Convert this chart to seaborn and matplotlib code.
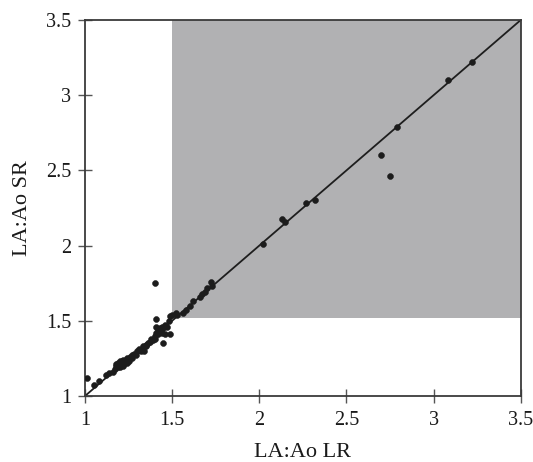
import numpy as np
import pandas as pd
import matplotlib
matplotlib.use("Agg")
import matplotlib.pyplot as plt
import seaborn as sns

# LA:Ao ratio measured by the two readers (LR on x, SR on y)
la_ao_lr = [
    1.01, 1.05, 1.08, 1.12, 1.14, 1.16, 1.17, 1.18, 1.19, 1.20,
    1.20, 1.21, 1.22, 1.22, 1.23, 1.24, 1.25, 1.26, 1.27, 1.28,
    1.29, 1.30, 1.31, 1.32, 1.33, 1.34, 1.35, 1.36, 1.37, 1.38,
    1.39, 1.40, 1.40, 1.41, 1.42, 1.42, 1.43, 1.44, 1.44, 1.45,
    1.45, 1.46, 1.46, 1.47, 1.48, 1.41, 1.41, 1.40, 1.49, 1.49,
    1.50, 1.52, 1.53, 1.56, 1.58, 1.60, 1.62, 1.66, 1.67, 1.69,
    1.70, 1.72, 1.73, 2.02, 2.13, 2.15, 2.27, 2.32, 2.70, 2.75,
    2.79, 3.08, 3.22, 1.18, 1.19, 1.21, 1.24, 1.27, 1.35, 1.43,
]
la_ao_sr = [
    1.12, 1.07, 1.10, 1.14, 1.15, 1.16, 1.18, 1.20, 1.22, 1.19,
    1.23, 1.21, 1.24, 1.20, 1.22, 1.25, 1.23, 1.26, 1.27, 1.28,
    1.27, 1.30, 1.31, 1.30, 1.33, 1.30, 1.33, 1.35, 1.36, 1.38,
    1.37, 1.40, 1.38, 1.42, 1.41, 1.44, 1.43, 1.42, 1.46, 1.45,
    1.35, 1.41, 1.47, 1.46, 1.50, 1.51, 1.46, 1.75, 1.53, 1.41,
    1.54, 1.55, 1.54, 1.55, 1.57, 1.60, 1.63, 1.66, 1.68, 1.69,
    1.72, 1.76, 1.73, 2.01, 2.18, 2.16, 2.28, 2.30, 2.60, 2.46,
    2.79, 3.10, 3.22, 1.21, 1.19, 1.23, 1.22, 1.25, 1.34, 1.45,
]
axis_ticks = [1, 1.5, 2, 2.5, 3, 3.5]
tick_labels = ["1", "1.5", "2", "2.5", "3", "3.5"]
shade_x0, shade_y0 = 1.5, 1.52
identity = [1.0, 3.5]

df = pd.DataFrame({"lr": la_ao_lr, "sr": la_ao_sr})

sns.set_style("white")
plt.rcParams["font.family"] = ["Liberation Serif", "DejaVu Serif"]

fig = plt.figure(figsize=(5.33, 4.62), dpi=100)
ax = fig.add_axes([0.1595, 0.1429, 0.8175, 0.8138])

# shaded region above the threshold on both readings
ax.fill_between([shade_x0, 3.5], shade_y0, 3.5, color="#b1b1b3", lw=0, zorder=0)

# line of identity
sns.lineplot(x=identity, y=identity, ax=ax, color="#1e1e1e", lw=1.3, zorder=2)

sns.scatterplot(data=df, x="lr", y="sr", ax=ax, color="#1c1c1c",
                s=18, edgecolor="#1c1c1c", linewidth=0.4, zorder=3)

ax.set_xlim(1, 3.5)
ax.set_ylim(1, 3.5)
ax.set_xticks(axis_ticks)
ax.set_xticklabels(tick_labels)
ax.set_yticks(axis_ticks)
ax.set_yticklabels(tick_labels)
ax.tick_params(axis="both", direction="inout", length=10, width=1,
               color="#555555", labelsize=14.5, labelcolor="#1a1a1a",
               bottom=True, left=True)
ax.tick_params(axis="x", pad=6)
ax.tick_params(axis="y", pad=5)

for sp in ax.spines.values():
    sp.set_color("#3a3a3a")
    sp.set_linewidth(1.3)

ax.set_xlabel("LA:Ao LR", fontsize=16, color="#1a1a1a", labelpad=9)
ax.set_ylabel("LA:Ao SR", fontsize=16, color="#1a1a1a", labelpad=10)

fig.savefig("out.png", dpi=100)
